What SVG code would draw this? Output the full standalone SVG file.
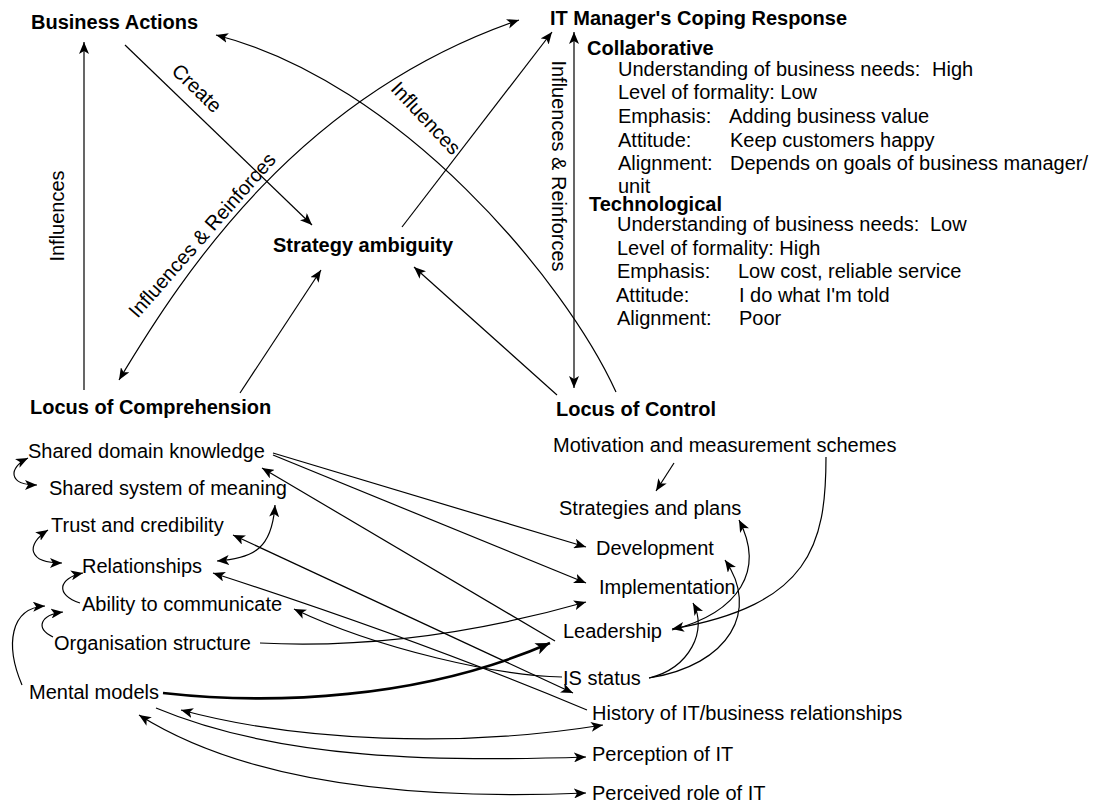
<svg xmlns="http://www.w3.org/2000/svg" width="1093" height="803" viewBox="0 0 1093 803">
<defs>
<marker id="ah" viewBox="0 0 12 10" refX="12" refY="5" markerWidth="12" markerHeight="10" orient="auto-start-reverse" markerUnits="userSpaceOnUse"><path d="M0,0 L12,5 L0,10 L3,5 z" fill="#000"/></marker>
<marker id="ahb" viewBox="0 0 12 10" refX="12" refY="5" markerWidth="15" markerHeight="12" orient="auto-start-reverse" markerUnits="userSpaceOnUse"><path d="M0,0 L12,5 L0,10 L3,5 z" fill="#000"/></marker>
</defs>
<style>
text{font-family:"Liberation Sans",Arial,sans-serif;font-size:20px;fill:#000}
.b{font-weight:bold}
.c{fill:none;stroke:#000;stroke-width:1.2}
.e{marker-end:url(#ah)}
.s{marker-start:url(#ah)}
.t{fill:none;stroke:#000;stroke-width:2.6;marker-end:url(#ahb)}
</style>
<rect width="1093" height="803" fill="#fff"/>
<g id="connectors">
<path class="c e" d="M84,390 L84,42"/>
<path class="c e" d="M125,45 L312,225"/>
<path class="c e" d="M402,227 L552,32"/>
<path class="c e" d="M240,393 L321,270"/>
<path class="c e" d="M557,395 L414,267"/>
<path class="c e s" d="M574,32 L574,388"/>
<path class="c e" d="M616,392 C565,280 400,82 216,35"/>
<path class="c e s" d="M119,380 C185,270 300,95 519,20"/>
<path class="c e" d="M273,453 L586,547"/>
<path class="c e" d="M273,455 L586,583"/>
<path class="c e" d="M555,641 L262,468"/>
<path class="c e s" d="M217,561 C255,558 272,548 275,505"/>
<path class="c e s" d="M233,535 L573,693"/>
<path class="c e" d="M587,710 Q420,640 213,573"/>
<path class="c e" d="M562,677 C500,676 380,650 294,609"/>
<path class="c e" d="M260,643 C360,648 470,635 586,602"/>
<path class="t" d="M163,693 C270,705 420,700 550,643"/>
<path class="c e" d="M674,463 L656,491"/>
<path class="c e" d="M826,457 C826,545 810,605 672,629"/>
<path class="c e" d="M672,630 C740,612 765,570 739,520"/>
<path class="c e" d="M649,678 C690,668 708,630 693,603"/>
<path class="c e" d="M649,678 C730,665 760,610 725,560"/>
<path class="c e s" d="M181,710 C300,742 460,748 603,725"/>
<path class="c e" d="M156,708 C280,760 440,762 586,757"/>
<path class="c e s" d="M139,715 C250,785 420,800 586,793"/>
<path class="c e s" d="M28,458 C8,468 8,485 37,485"/>
<path class="c e s" d="M48,530 C25,545 28,563 62,563"/>
<path class="c e" d="M80,603 C55,595 58,578 83,573"/>
<path class="c e" d="M53,637 C35,628 40,615 63,612"/>
<path class="c e" d="M22,685 C5,645 10,608 45,606"/>
</g>
<g id="edge-labels">
<text transform="translate(64,216) rotate(-90)" text-anchor="middle">Influences</text>
<text transform="translate(197,88) rotate(44)" text-anchor="middle" dy="7">Create</text>
<text transform="translate(426,118) rotate(47)" text-anchor="middle" dy="7">Influences</text>
<text transform="translate(202,235) rotate(-48.7)" text-anchor="middle" dy="7">Influences &amp; Reinforces</text>
<text transform="translate(552,166) rotate(90)" text-anchor="middle">Influences &amp; Reinforces</text>
</g>
<g id="business-actions"><text class="b" x="31" y="29">Business Actions</text></g>
<g id="it-manager">
<text class="b" x="550" y="25">IT Manager's Coping Response</text>
<text class="b" x="587" y="55">Collaborative</text>
<text x="618" y="76">Understanding of business needs:<tspan x="932">High</tspan></text>
<text x="618" y="99">Level of formality: Low</text>
<text x="618" y="123">Emphasis:<tspan x="729">Adding business value</tspan></text>
<text x="618" y="147">Attitude:<tspan x="730">Keep customers happy</tspan></text>
<text x="618" y="170">Alignment:<tspan x="730">Depends on goals of business manager/</tspan></text>
<text x="618" y="193">unit</text>
<text class="b" x="589" y="211">Technological</text>
<text x="617" y="231">Understanding of business needs:<tspan x="930">Low</tspan></text>
<text x="617" y="255">Level of formality: High</text>
<text x="617" y="278">Emphasis:<tspan x="738">Low cost, reliable service</tspan></text>
<text x="616" y="302">Attitude:<tspan x="739">I do what I'm told</tspan></text>
<text x="617" y="325">Alignment:<tspan x="739">Poor</tspan></text>
</g>
<g id="strategy-ambiguity"><text class="b" x="273" y="252">Strategy ambiguity</text></g>
<g id="locus-comprehension">
<text class="b" x="30" y="414">Locus of Comprehension</text>
<text x="28" y="458">Shared domain knowledge</text>
<text x="49" y="495">Shared system of meaning</text>
<text x="51" y="532">Trust and credibility</text>
<text x="82" y="573">Relationships</text>
<text x="82" y="611">Ability to communicate</text>
<text x="54" y="650">Organisation structure</text>
<text x="29" y="699">Mental models</text>
</g>
<g id="locus-control">
<text class="b" x="556" y="416">Locus of Control</text>
<text x="553" y="452">Motivation and measurement schemes</text>
<text x="559" y="515">Strategies and plans</text>
<text x="596" y="555">Development</text>
<text x="599" y="594">Implementation</text>
<text x="563" y="638">Leadership</text>
<text x="563" y="685">IS status</text>
<text x="592" y="720">History of IT/business relationships</text>
<text x="592" y="761">Perception of IT</text>
<text x="592" y="800">Perceived role of IT</text>
</g>
</svg>
